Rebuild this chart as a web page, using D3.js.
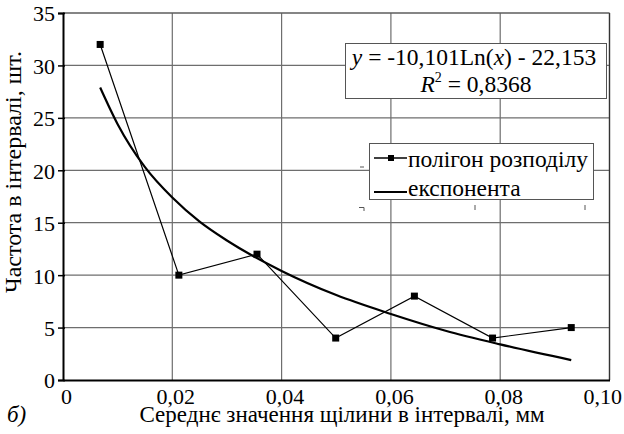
<!DOCTYPE html>
<html><head><meta charset="utf-8">
<script src="https://cdn.jsdelivr.net/npm/d3@7"></script>
</head><body style="margin:0;background:#fff"><svg id="c" width="624" height="434" style="display:block"></svg>
<script>
const xValues = [0.0068, 0.0212, 0.0355, 0.0499, 0.0643, 0.0786, 0.093];
const polygonValues = [32, 10, 12, 4, 8, 4, 5];
const trendX = [0.0068, 0.01, 0.015, 0.02, 0.025, 0.03, 0.04, 0.05, 0.06, 0.07, 0.08, 0.093];
const trendY = [27.9, 24.4, 20.3, 17.4, 15.1, 13.3, 10.4, 8.1, 6.3, 4.7, 3.4, 1.9];
const xTicks = [0, 0.02, 0.04, 0.06, 0.08, 0.10];
const xTickLabels = ["0", "0,02", "0,04", "0,06", "0,08", "0,10"];
const yTicks = [0, 5, 10, 15, 20, 25, 30, 35];
const seriesNames = ["полігон розподілу", "експонента"];

const svg = d3.select("#c");
const L = 63, R = 609.5, T = 13, B = 380;
const x = d3.scaleLinear().domain([0, 0.1]).range([L, R]);
const y = d3.scaleLinear().domain([0, 35]).range([B, T]);

// grid
const g = svg.append("g");
g.selectAll("line.h").data(yTicks.slice(1)).enter().append("line")
  .attr("x1", L).attr("x2", R).attr("y1", d => y(d)).attr("y2", d => y(d))
  .attr("stroke", "#6e6e6e").attr("stroke-width", 1.2);
g.selectAll("line.v").data(xTicks.slice(1)).enter().append("line")
  .attr("y1", T).attr("y2", B).attr("x1", d => x(d)).attr("x2", d => x(d))
  .attr("stroke", "#6e6e6e").attr("stroke-width", 1.2);
svg.append("line").attr("x1", R).attr("x2", R).attr("y1", T).attr("y2", B).attr("stroke", "#333").attr("stroke-width", 1.3);
svg.append("line").attr("x1", L).attr("x2", R).attr("y1", T).attr("y2", T).attr("stroke", "#555").attr("stroke-width", 1.2);

// axes
const xAxis = d3.axisBottom(x).tickValues(xTicks).tickFormat((d, i) => xTickLabels[i]).tickSize(0).tickPadding(10);
const yAxis = d3.axisLeft(y).tickValues(yTicks).tickFormat(d => d).tickSize(5).tickPadding(4);
const gx = svg.append("g").attr("transform", `translate(0,${B})`).call(xAxis);
const gy = svg.append("g").attr("transform", `translate(${L},0)`).call(yAxis);
[gx, gy].forEach(a => {
  a.attr("font-family", null);
  a.select(".domain").attr("stroke", "#000").attr("stroke-width", 2);
  a.selectAll("text").attr("fill", "#000");
  a.selectAll(".tick line").attr("stroke", "#000").attr("stroke-width", 1.5);
});
gx.attr("font-size", 22);
gy.attr("font-size", 22);
gy.selectAll(".tick line").attr("x2", 2).attr("x1", -5);
gx.selectAll("text").attr("y", 23.5).attr("dy", 0).attr("dx", 3);
gx.selectAll(".tick").filter((d, i) => i === xTicks.length - 1).select("text")
  .attr("text-anchor", "end").attr("dx", 12);
gy.selectAll("text").attr("x", -8).attr("dy", "0.36em");

// trend curve
const line = d3.line().x(d => x(d[0])).y(d => y(d[1])).curve(d3.curveMonotoneX);
svg.append("path").datum(trendX.map((v, i) => [v, trendY[i]]))
  .attr("d", line).attr("fill", "none").attr("stroke", "#000").attr("stroke-width", 2.2);

// polygon
const poly = xValues.map((v, i) => [v, polygonValues[i]]);
svg.append("path").datum(poly).attr("d", d3.line().x(d => x(d[0])).y(d => y(d[1])))
  .attr("fill", "none").attr("stroke", "#000").attr("stroke-width", 1.2);
svg.selectAll("rect.m").data(poly).enter().append("rect")
  .attr("x", d => x(d[0]) - 3.5).attr("y", d => y(d[1]) - 3.5).attr("width", 7).attr("height", 7).attr("fill", "#000");

// equation box
svg.append("rect").attr("x", 345.5).attr("y", 43.5).attr("width", 261).attr("height", 55).attr("fill", "#fff").attr("stroke", "#555").attr("stroke-width", 1);
const eq1 = svg.append("text").attr("x", 474).attr("y", 65).attr("text-anchor", "middle").attr("font-size", 23.5);
eq1.append("tspan").attr("font-style", "italic").text("y");
eq1.append("tspan").text(" = -10,101Ln(");
eq1.append("tspan").attr("font-style", "italic").text("x");
eq1.append("tspan").text(") - 22,153");
const eq2 = svg.append("text").attr("x", 476).attr("y", 92).attr("text-anchor", "middle").attr("font-size", 23.5);
eq2.append("tspan").attr("font-style", "italic").text("R");
eq2.append("tspan").attr("dy", -10).attr("font-size", 14).text("2");
eq2.append("tspan").attr("dy", 10).text(" = 0,8368");

// stray legend marks
svg.append("line").attr("x1", 360).attr("x2", 364).attr("y1", 167).attr("y2", 167).attr("stroke", "#555");
svg.append("path").attr("d", "M359,207.5 H364 V211").attr("fill", "none").attr("stroke", "#555");
svg.append("line").attr("x1", 475).attr("x2", 475).attr("y1", 205).attr("y2", 210).attr("stroke", "#555");
svg.append("line").attr("x1", 585).attr("x2", 585).attr("y1", 205).attr("y2", 210).attr("stroke", "#555");

// legend
svg.append("rect").attr("x", 369.5).attr("y", 143.5).attr("width", 224).attr("height", 56).attr("fill", "#fff").attr("stroke", "#555").attr("stroke-width", 1);
const lg = svg.append("g");
lg.append("line").attr("x1", 374).attr("x2", 407).attr("y1", 158).attr("y2", 158).attr("stroke", "#000").attr("stroke-width", 1.3);
lg.append("rect").attr("x", 388).attr("y", 155).attr("width", 6).attr("height", 6).attr("fill", "#000");
lg.append("line").attr("x1", 374).attr("x2", 407).attr("y1", 192).attr("y2", 192).attr("stroke", "#000").attr("stroke-width", 2.2);
lg.selectAll("text").data(seriesNames).enter().append("text")
  .attr("x", 408).attr("y", (d, i) => 167 + i * 29).attr("font-size", 23.5).text(d => d);

// axis titles
svg.append("text").attr("transform", "translate(21,172) rotate(-90)").attr("text-anchor", "middle").attr("font-size", 24).text("Частота в інтервалі, шт.");
svg.append("text").attr("x", 342).attr("y", 422).attr("text-anchor", "middle").attr("font-size", 23).text("Середнє значення щілини в інтервалі, мм");
svg.append("text").attr("x", 7).attr("y", 422).attr("font-style", "italic").attr("font-size", 23).text("б)");

svg.selectAll("text, tspan").attr("font-family", "Liberation Serif").style("font-family", "Liberation Serif");
</script></body></html>
